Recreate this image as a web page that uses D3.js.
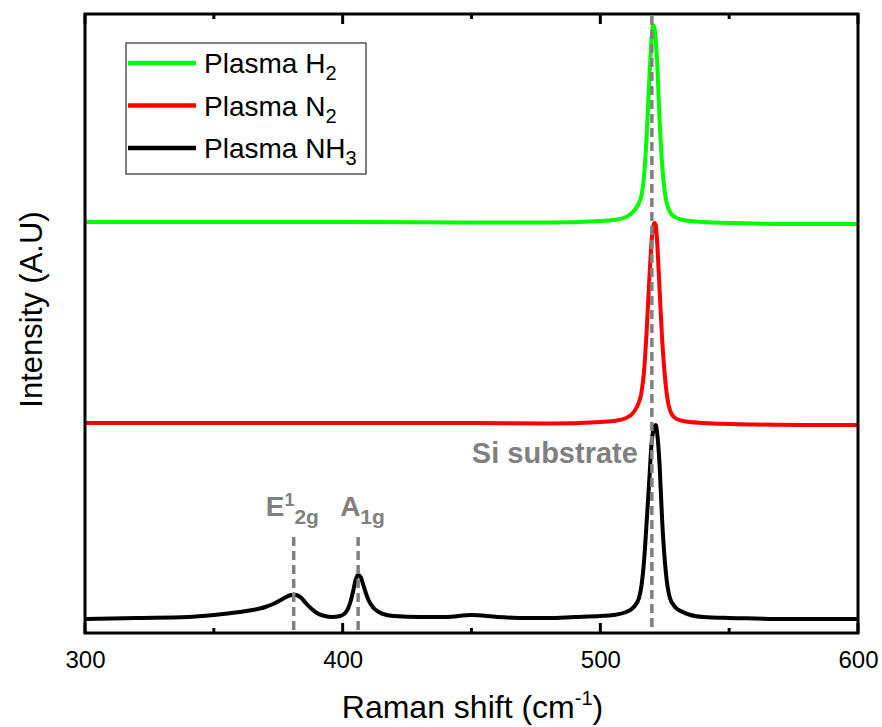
<!DOCTYPE html>
<html>
<head>
<meta charset="utf-8">
<script src="https://cdn.jsdelivr.net/npm/d3@7"></script>
<style>
  html, body { margin: 0; padding: 0; background: #fff; }
  svg { display: block; font-family: "Liberation Sans", Arial, sans-serif; }
</style>
</head>
<body>
<svg id="chart" width="882" height="727"></svg>
<script>
// ---------------- DATA ----------------
const xTicksMajor = [300, 400, 500, 600];
const xTicksMinor = [350, 450, 550];

// Raman spectra, intensity in arbitrary units (offset stacked)
const shiftNH3 = [300,320,340,350,360,365,370,373,376,378,380,381,382,384,386,388,390,393,396,399,401,402,403,404,405,406,407,408,409,410,412,414,417,420,430,440,450,460,470,480,490,500,505,510,513,515,516,517,518,519,520,521,521.5,522,523,524,525,526,527,529,532,535,540,550,560,570,600];
const intensNH3 = [14,15,16,18,21,23,26,29,33,36,38,38.5,38,35,29,24,20,17,16,17,20,24,31,41,53,58,56,48,40,33,25,21,18,17,16,16,18,16,15,15,16,17,18,21,26,35,48,73,112,153,193,206,208,201,168,112,73,48,35,26,21,18,16,15,14.5,14,14];

const shiftN2 = [300,350,400,450,480,500,505,510,513,515,516,517,518,519,520,521,521.5,522,523,524,525,526,527,529,532,540,550,560,580,600];
const intensN2 = [210,210,210,210,209.5,211,212,215,221,231,241,263,303,353,395,410,408,393,343,293,258,235,223,215,212,210,209,208.5,208,208];

const shiftH2 = [300,350,400,450,480,500,505,510,513,515,516,517,518,519,520,520.5,521,522,523,524,525,526,527,529,532,540,560,580,600];
const intensH2 = [411,411,411,410.5,410.5,412,413,416,422,430,438,458,498,553,598,608,605,573,513,468,441,428,421,416,413,411,409.5,409,409];

const seriesNames = [["Plasma H", "2"], ["Plasma N", "2"], ["Plasma NH", "3"]];
const seriesColors = ["#00ff00", "#ff0000", "#000000"];

const siPeak = 520;
const modePeaks = [381, 406];
const modeLabels = [["E", "1", "2g"], ["A", "", "1g"]];

// ---------------- LAYOUT ----------------
const svg = d3.select("#chart");
const margin = { left: 85, right: 24, top: 14, bottom: 94 };
const W = 882, H = 727;
const x0 = margin.left, x1 = W - margin.right, y0 = margin.top, y1 = H - margin.bottom;

const x = d3.scaleLinear().domain([300, 600]).range([x0, x1]);
const y = d3.scaleLinear().domain([0, 620]).range([y1, y1 - 620]);

svg.append("defs").append("clipPath").attr("id", "clip")
  .append("rect").attr("x", x0).attr("y", y0).attr("width", x1 - x0).attr("height", y1 - y0);

const line = d3.line().x(d => x(d[0])).y(d => y(d[1])).curve(d3.curveMonotoneX);

const series = [
  { xs: shiftH2, ys: intensH2 },
  { xs: shiftN2, ys: intensN2 },
  { xs: shiftNH3, ys: intensNH3 }
];

const plot = svg.append("g").attr("clip-path", "url(#clip)");
series.forEach((s, i) => {
  plot.append("path")
    .datum(s.xs.map((v, j) => [v, s.ys[j]]))
    .attr("d", line)
    .attr("fill", "none")
    .attr("stroke", seriesColors[i])
    .attr("stroke-width", 4)
    .attr("stroke-linejoin", "round");
});

// dashed reference lines
const dashG = svg.append("g").attr("stroke", "#808080").attr("stroke-width", 3.5)
  .attr("stroke-dasharray", "9,5");
dashG.append("line").attr("x1", x(siPeak)).attr("x2", x(siPeak)).attr("y1", y0 + 2).attr("y2", y1);
modePeaks.forEach(p => {
  dashG.append("line").attr("x1", x(p)).attr("x2", x(p)).attr("y1", 537).attr("y2", y1);
});

// peak labels
const labG = svg.append("g").attr("fill", "#808080").attr("font-weight", "bold");
labG.append("text").attr("x", x(siPeak) - 14).attr("y", 463)
  .attr("text-anchor", "end").attr("font-size", 29).text("Si substrate");

modePeaks.forEach((p, i) => {
  const [base, sup, sub] = modeLabels[i];
  const t = labG.append("text").attr("y", 516).attr("font-size", 28)
    .attr("x", i === 0 ? x(p) - 28 : x(p) - 18);
  t.append("tspan").text(base);
  if (sup) {
    t.append("tspan").attr("font-size", 18).attr("dy", -10).text(sup);
    t.append("tspan").attr("font-size", 21).attr("dy", 18).attr("dx", 0).text(sub);
  } else {
    t.append("tspan").attr("font-size", 21).attr("dy", 8).text(sub);
  }
});

// frame
svg.append("rect").attr("x", x0).attr("y", y0).attr("width", x1 - x0).attr("height", y1 - y0)
  .attr("fill", "none").attr("stroke", "#000").attr("stroke-width", 3);

// ticks (inward, bottom and top)
const tickG = svg.append("g").attr("stroke", "#000").attr("stroke-width", 3);
xTicksMajor.forEach(t => {
  tickG.append("line").attr("x1", x(t)).attr("x2", x(t)).attr("y1", y1).attr("y2", y1 - 10);
  tickG.append("line").attr("x1", x(t)).attr("x2", x(t)).attr("y1", y0).attr("y2", y0 + 10);
});
xTicksMinor.forEach(t => {
  tickG.append("line").attr("x1", x(t)).attr("x2", x(t)).attr("y1", y1).attr("y2", y1 - 5);
  tickG.append("line").attr("x1", x(t)).attr("x2", x(t)).attr("y1", y0).attr("y2", y0 + 5);
});

// tick labels via axis generator (lines hidden)
const axis = d3.axisBottom(x).tickValues(xTicksMajor).tickSize(0).tickPadding(0).tickFormat(d3.format("d"));
const axG = svg.append("g").attr("transform", `translate(0,${y1})`).call(axis);
axG.select(".domain").remove();
axG.selectAll("text").attr("font-size", 24).attr("font-family", "Liberation Sans, Arial, sans-serif")
  .attr("fill", "#000").attr("dy", null).attr("y", 35);

// axis titles
const xt = svg.append("text").attr("x", (x0 + x1) / 2 + 1).attr("y", 718)
  .attr("text-anchor", "middle").attr("font-size", 32).attr("fill", "#000");
xt.append("tspan").text("Raman shift (cm");
xt.append("tspan").attr("font-size", 20).attr("dy", -13).text("-1");
xt.append("tspan").attr("dy", 13).text(")");

svg.append("text").attr("transform", `translate(42,${(y0 + y1) / 2 - 14}) rotate(-90)`)
  .attr("text-anchor", "middle").attr("font-size", 31).attr("fill", "#000").text("Intensity (A.U)");

// legend
const lg = svg.append("g");
lg.append("rect").attr("x", 126).attr("y", 43).attr("width", 240).attr("height", 131)
  .attr("fill", "#fff").attr("stroke", "#555").attr("stroke-width", 1.5);
seriesNames.forEach((nm, i) => {
  const ly = 63 + i * 42.5;
  lg.append("line").attr("x1", 128).attr("x2", 196).attr("y1", ly).attr("y2", ly)
    .attr("stroke", seriesColors[i]).attr("stroke-width", 4.5);
  const t = lg.append("text").attr("x", 204).attr("y", ly + 10).attr("font-size", 28).attr("fill", "#000");
  t.append("tspan").text(nm[0]);
  t.append("tspan").attr("font-size", 20).attr("dy", 7).text(nm[1]);
});
</script>
</body>
</html>
